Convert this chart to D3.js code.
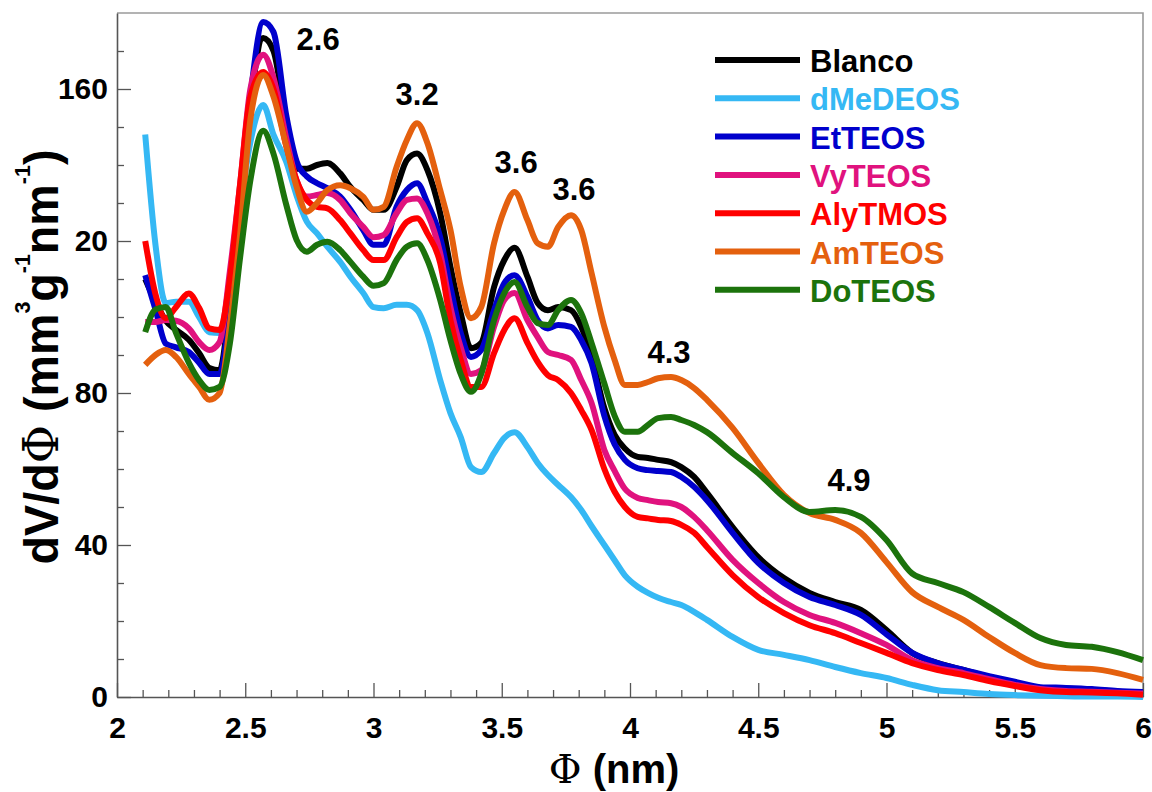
<!DOCTYPE html>
<html><head><meta charset="utf-8">
<script src="https://cdn.jsdelivr.net/npm/d3@7"></script>
<style>
body{margin:0;background:#fff}
svg{display:block}
text{font-family:"Liberation Sans",Arial,sans-serif;font-weight:bold}
</style>
</head><body><svg id="c" width="1152" height="792"></svg>
<script>
// ---- data ----
const phi = [2.11,2.15,2.19,2.23,2.28,2.32,2.36,2.40,2.44,2.48,2.52,2.57,2.61,2.66,2.70,2.74,2.78,2.82,2.87,2.91,2.96,3.00,3.04,3.09,3.13,3.17,3.21,3.26,3.30,3.34,3.38,3.42,3.47,3.51,3.55,3.60,3.64,3.68,3.72,3.77,3.81,3.85,3.90,3.94,3.98,4.03,4.07,4.11,4.16,4.20,4.25,4.30,4.40,4.50,4.60,4.70,4.80,4.90,5.00,5.10,5.20,5.30,5.40,5.50,5.60,5.70,5.80,5.90,6.00];
const blanco = [110,104,99,96.6,94,90.5,86.6,86,104,130,156,173.4,170,151,139,139,140,140.5,137.8,134.2,130.8,128.2,128.2,134.2,141.3,143,138.7,127.3,113.2,101,91.8,93.2,107.9,115,118.2,110.6,103.7,101.8,102.6,101.8,97.4,89.5,76,69,65.4,63.2,62.9,62.4,61.8,60.5,57.9,53.7,44.7,36.8,31.3,27.4,25,22.9,17.6,11.6,8.9,7.1,5.3,3.7,2.4,2.2,1.9,1.4,1.1];
const dMeDEOS = [148,119,103.7,104,104,100,96,95.8,104,128,146,155.8,148,140.8,132,125.1,122,118.5,114.5,110.6,106.3,102.6,102.3,103.2,103.2,101.8,95.8,83.4,74.7,68.4,60.5,59.2,64.2,68.2,69.7,65.8,61.6,58.4,55.8,52.6,49.2,45,40,36,32,29,27.4,26.1,25,24.2,22.4,20.3,15.8,12.4,11.1,9.7,7.9,6.3,5,3.2,1.8,1.3,0.8,0.5,0.3,0.2,0.1,0.1,0];
const etTEOS = [111,102,93,92,90.8,88,85,85,102,131,158,177.6,175,153,141,137,135.2,133.9,131.7,128.2,122.9,119,119,129,133.4,135.2,130,121,107.9,95.8,89.5,91.3,101.8,108.9,111,105.3,99.2,97,97.9,97.4,93.9,87.9,74,66.5,62.4,60.2,59.7,59.5,59.2,57.9,55.3,51.8,43.2,35.3,30,26.3,24.2,21.6,16.5,11.6,8.9,7.1,5.5,4,2.6,2.4,2.1,1.6,1.3];
const vyTEOS = [98.7,98.7,99.2,99,97,93.4,91.3,93.4,112,135,160,169,163,147,136,131.7,132.1,132.6,130.8,127.3,123.7,121,121.6,127.3,130.8,131.2,127.3,116.8,102.6,92,85,86,97.4,104.5,106.3,99.2,94.7,90.8,90,88.7,83.4,77.4,65,59.5,54.8,52.4,51.8,51.3,51,50,47.4,43.9,36.1,30,25,21.6,19.5,16.8,13.7,9.7,7.6,6.3,4.7,3.2,2.1,1.6,1.4,1.1,0.9];
const alyTMOS = [120,106,99.7,102.6,106.2,102.4,97,96.6,110,135,158,164.5,160,145,136,130.8,129,128.6,125.5,122,117.6,115,115,121,125,126,122,114.2,99.2,88.7,81.6,81.6,90.5,96.6,99.7,93.2,88.2,84.7,83.4,80,75.5,70.3,60,54,50,47.4,47,46.6,46.3,45.3,43.2,39.5,32.1,26.3,22.1,18.9,16.8,14.2,11.6,8.9,7.1,5.8,4.2,2.9,1.8,1.3,1.2,1,0.6];
const amTEOS = [87.4,90,91.3,89.5,85,81.6,78.2,80,98,121.6,152,163.7,158,145,134.3,127.7,130,133.4,134.7,133.9,131.6,128.2,129,139.5,146.6,151,145.8,133.4,122.9,107.9,99.7,102.6,119.4,128.2,132.9,125.5,119.4,118.5,123.7,126.8,122.9,111.6,97.4,88.7,82.1,82.1,82.9,83.9,84.2,83.4,81.3,78.2,70.8,61.6,53.2,48.4,46.6,43.2,35.5,27.6,23.7,20.3,15.8,11.6,8.4,7.6,7.4,6.3,4.5];
const doTEOS = [96,102,102.6,95.8,88,83.4,80.8,81.6,93,115.7,136,149,143,129.5,120.3,117.2,119,119.8,117.6,114.5,110.6,108.2,108.9,115,118.5,119.4,115,104.5,93.9,85,80.3,85,99.2,106.3,109.2,102.6,98.4,97.9,101.8,104.5,101,93.2,82.5,74,69.8,69.8,71.6,73.4,73.7,72.9,71.6,69.7,64.2,58.9,52.6,48.7,49.2,47.4,41.3,32.5,30,27.6,23.7,19.5,15.5,13.7,13.2,11.8,9.7];

const seriesNames = ["Blanco","dMeDEOS","EtTEOS","VyTEOS","AlyTMOS","AmTEOS","DoTEOS"];
const seriesValues = [blanco,dMeDEOS,etTEOS,vyTEOS,alyTMOS,amTEOS,doTEOS];
const seriesColors = ["#000000","#35b8f4","#0000cc","#e0127e","#ff0000","#e4600e","#1c730c"];

const xTickValues = [2,2.5,3,3.5,4,4.5,5,5.5,6];
const xTickLabels = ["2","2.5","3","3.5","4","4.5","5","5.5","6"];
const yTickValues = [0,40,80,120,160];
const yTickLabels = ["0","40","80","20","160"];

const peakLabels = ["2.6","3.2","3.6","3.6","4.3","4.9"];
const peakLabelX = [2.784,3.17,3.556,3.782,4.152,4.854];
const peakLabelY = [170.3,155.8,137.9,130.8,87.9,54.2];

// ---- layout ----
const L = 117, R = 1143, T = 13, B = 697;
const svg = d3.select("#c");
const x = d3.scaleLinear().domain([2,6]).range([L,R]);
const y = d3.scaleLinear().domain([0,180]).range([B,T]);

// frame (top, right)
svg.append("path").attr("d",`M${L},${T}H${R}V${B}`).attr("fill","none").attr("stroke","#9a9a9a").attr("stroke-width",1.6);

// minor ticks
const xMinor = d3.range(21,60).map(d=>d/10).filter(v=>Math.abs(v*2-Math.round(v*2))>1e-6);
const yMinor = d3.range(10,180,10).filter(v=>v%40!==0);
svg.append("g").attr("transform",`translate(0,${B})`)
  .call(d3.axisBottom(x).tickValues(xMinor).tickSizeInner(-7).tickSizeOuter(0).tickFormat(""))
  .call(g=>g.select(".domain").remove())
  .selectAll("line").attr("stroke","#555").attr("stroke-width",1.3);
svg.append("g").attr("transform",`translate(${L},0)`)
  .call(d3.axisLeft(y).tickValues(yMinor).tickSizeInner(-7).tickSizeOuter(0).tickFormat(""))
  .call(g=>g.select(".domain").remove())
  .selectAll("line").attr("stroke","#555").attr("stroke-width",1.3);

// major axes
const xAxis = svg.append("g").attr("transform",`translate(0,${B})`)
  .call(d3.axisBottom(x).tickValues(xTickValues).tickSizeInner(-14).tickSizeOuter(0).tickPadding(20)
    .tickFormat((d,i)=>xTickLabels[i]));
const yAxis = svg.append("g").attr("transform",`translate(${L},0)`)
  .call(d3.axisLeft(y).tickValues(yTickValues).tickSizeInner(-14).tickSizeOuter(0).tickPadding(9)
    .tickFormat((d,i)=>yTickLabels[i]));
[xAxis,yAxis].forEach(a=>{
  a.select(".domain").attr("stroke","#555").attr("stroke-width",1.6);
  a.selectAll(".tick line").attr("stroke","#555").attr("stroke-width",1.3);
  a.selectAll("text").attr("fill","#000").style("font-size","30px").style("font-family",'"Liberation Sans",Arial,sans-serif').style("font-weight","bold");
});

// series lines
const line = d3.line().x((d,i)=>x(phi[i])).y(d=>y(d)).curve(d3.curveMonotoneX);
seriesValues.forEach((vals,k)=>{
  svg.append("path").datum(vals).attr("d",line)
    .attr("fill","none").attr("stroke",seriesColors[k]).attr("stroke-width",6)
    .attr("stroke-linejoin","round").attr("stroke-linecap","butt");
});

// peak labels
peakLabels.forEach((t,i)=>{
  svg.append("text").attr("x",x(peakLabelX[i])).attr("y",y(peakLabelY[i]))
    .attr("text-anchor","middle").style("font-size","31px").attr("fill","#000").text(t);
});

// legend
const legX0 = 715, legX1 = 800, legTextX = 810, legY0 = 60, legDY = 38.3;
seriesNames.forEach((n,k)=>{
  const yy = legY0 + k*legDY;
  svg.append("line").attr("x1",legX0).attr("x2",legX1).attr("y1",yy).attr("y2",yy)
    .attr("stroke",seriesColors[k]).attr("stroke-width",6);
  svg.append("text").attr("x",legTextX).attr("y",yy+12).style("font-size","31px")
    .attr("fill",seriesColors[k]).text(n);
});

// x title
const xt = svg.append("text").attr("x",614).attr("y",783).attr("text-anchor","middle").style("font-size","40px").attr("fill","#000");
xt.append("tspan").style("font-family",'"DejaVu Serif","Liberation Serif",serif').style("font-weight","normal").text("Φ");
xt.append("tspan").text(" (nm)");

// y title
const yt = svg.append("text").attr("text-anchor","middle").style("font-size","48px").attr("fill","#000");
const parts = [["dV/d",0],["Φ",0,1],[" (",0],["mm",0],["3",1],["g",0],["-1",1],["nm",0],["-1",1],[")",0]];
let shifted = false;
parts.forEach(p=>{
  const ts = yt.append("tspan").text(p[0]);
  if (p[2]) ts.style("font-family",'"DejaVu Serif","Liberation Serif",serif').style("font-weight","normal");
  if (p[1] && !shifted){ ts.attr("dy",-28).style("font-size","22px"); shifted = true; }
  else if (p[1]) { ts.style("font-size","22px"); }
  else if (!p[1] && shifted){ ts.attr("dy",28); shifted = false; }
});
const len = yt.node().getComputedTextLength();
const k = 415/len;
yt.attr("transform",`translate(58,357) rotate(-90) scale(${k},1)`);
</script>
</body></html>
